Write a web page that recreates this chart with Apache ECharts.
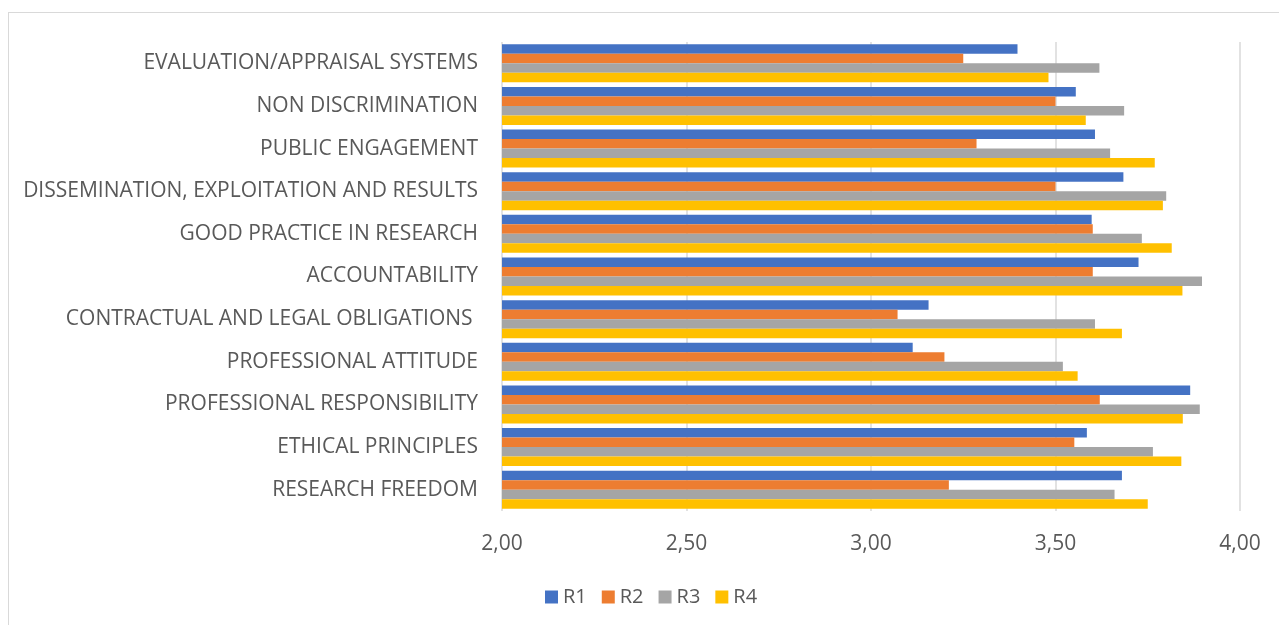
<!DOCTYPE html>
<html>
<head>
<meta charset="utf-8">
<script src="https://cdn.jsdelivr.net/npm/echarts@6/dist/echarts.min.js"></script>
<style>
  html, body { margin: 0; padding: 0; background: #fff; }
  #chart { width: 1279px; height: 625px; }
  #frame { position: absolute; left: 8px; top: 12px; width: 1300px; height: 700px;
           border-left: 1.5px solid #d9d9d9; border-top: 1.5px solid #d9d9d9; pointer-events: none; }
</style>
</head>
<body>
<div id="chart"></div>
<div id="frame"></div>
<script>
const categories = [
  'EVALUATION/APPRAISAL SYSTEMS',
  'NON DISCRIMINATION',
  'PUBLIC ENGAGEMENT',
  'DISSEMINATION, EXPLOITATION AND RESULTS',
  'GOOD PRACTICE IN RESEARCH',
  'ACCOUNTABILITY',
  'CONTRACTUAL AND LEGAL OBLIGATIONS ',
  'PROFESSIONAL ATTITUDE',
  'PROFESSIONAL RESPONSIBILITY',
  'ETHICAL PRINCIPLES',
  'RESEARCH FREEDOM'
];
const seriesNames = ['R1', 'R2', 'R3', 'R4'];
const r1 = [3.397, 3.555, 3.607, 3.684, 3.598, 3.725, 3.156, 3.113, 3.865, 3.585, 3.680];
const r2 = [3.25, 3.50, 3.286, 3.50, 3.601, 3.601, 3.072, 3.199, 3.620, 3.551, 3.211];
const r3 = [3.619, 3.686, 3.648, 3.80, 3.734, 3.897, 3.607, 3.520, 3.891, 3.764, 3.660];
const r4 = [3.481, 3.582, 3.769, 3.791, 3.815, 3.844, 3.680, 3.560, 3.845, 3.841, 3.750];
const xTicks = { min: 2, max: 4, interval: 0.5 };
const colors = ['#4472C4', '#ED7D31', '#A5A5A5', '#FFC000'];

const chart = echarts.init(document.getElementById('chart'));
const font = '"Open Sans", "DejaVu Sans", sans-serif';
const values = [r1, r2, r3, r4];
chart.setOption({
  animation: false,
  color: colors,
  grid: { left: 502, right: 39, top: 42, bottom: 114, containLabel: false },
  legend: {
    data: seriesNames,
    left: 540, top: 582,
    itemWidth: 13, itemHeight: 13, itemGap: 15,
    icon: 'rect',
    textStyle: { color: '#595959', fontSize: 20, fontFamily: font }
  },
  xAxis: {
    type: 'value', min: xTicks.min, max: xTicks.max, interval: xTicks.interval,
    axisLine: { show: false }, axisTick: { show: false },
    splitLine: { show: true, lineStyle: { color: '#d9d9d9', width: 1.5 } },
    axisLabel: {
      color: '#595959', fontSize: 21, fontFamily: font, margin: 23,
      formatter: v => v.toFixed(2).replace('.', ',')
    }
  },
  yAxis: {
    type: 'category', data: categories, inverse: true,
    axisLine: { show: false }, axisTick: { show: false },
    axisLabel: { color: '#595959', fontSize: 21, fontFamily: font, margin: 24 }
  },
  series: seriesNames.map((n, i) => ({
    name: n, type: 'bar', data: values[i],
    barWidth: 9.5, barGap: '0%',
    itemStyle: { color: colors[i] }
  }))
});
</script>
</body>
</html>
